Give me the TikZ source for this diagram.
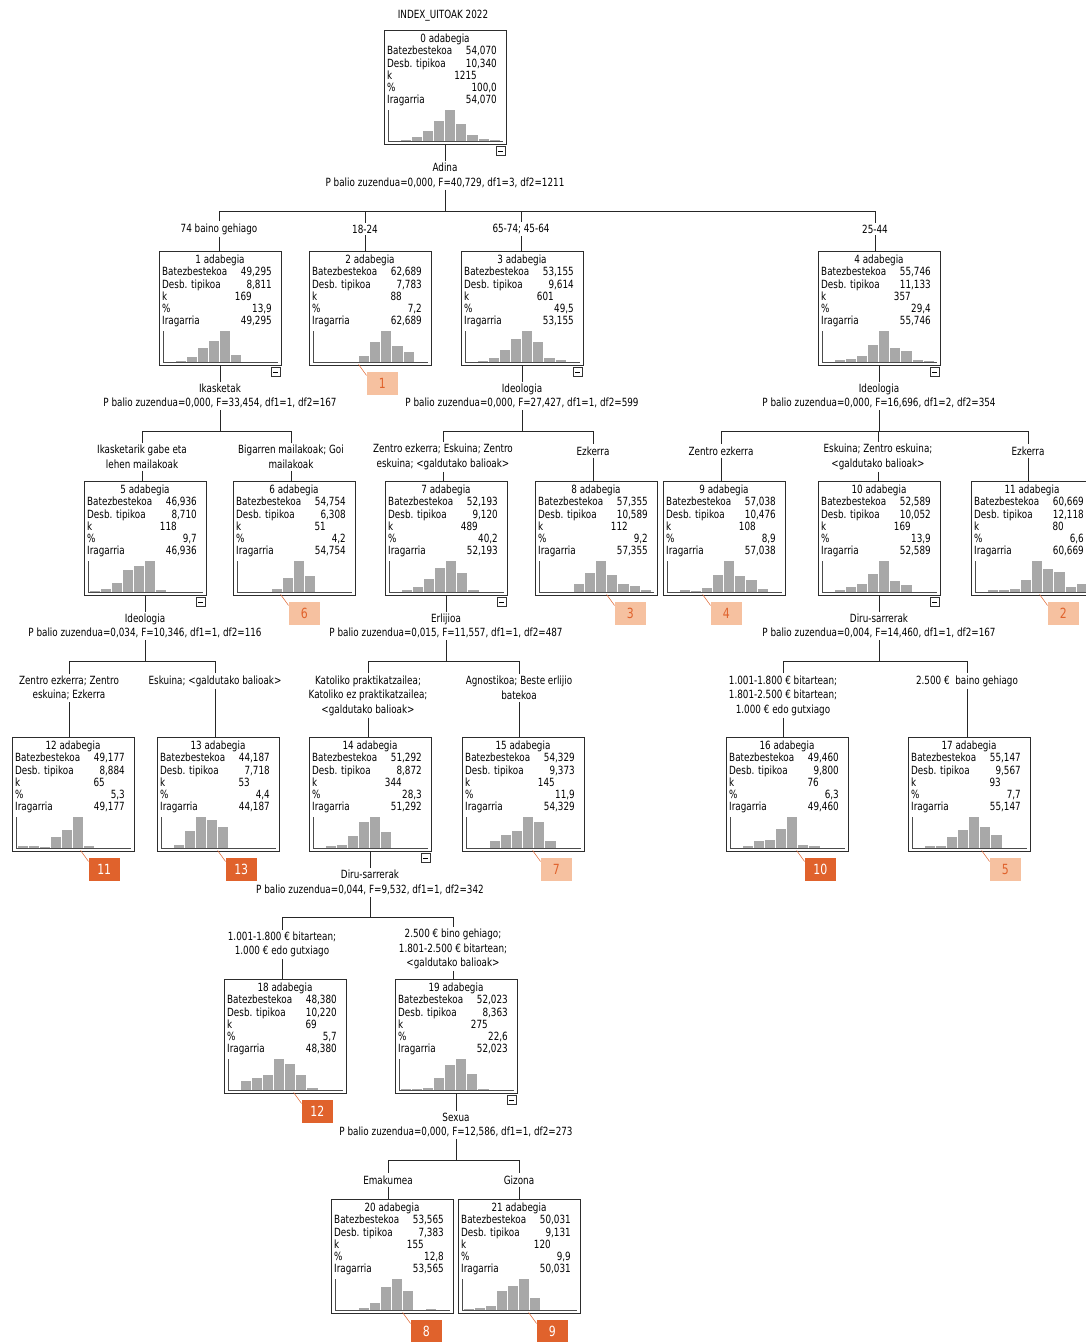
\documentclass[tikz,border=0pt]{standalone}
\usepackage{fontspec}
\setmainfont{DejaVu Sans}[FakeStretch=0.78]
\usepackage{tikz}
\usetikzlibrary{positioning}

\definecolor{orangedark}{RGB}{224,98,44}
\definecolor{orangelight}{RGB}{246,193,160}
\definecolor{bargray}{RGB}{168,168,168}
\definecolor{framegray}{RGB}{45,45,45}

% one tree node: name, left, top, number, mean, sd, k, pct, bars
\newcommand{\adabegia}[9]{%
  \begin{scope}[shift={(#2,#3)}]
    \node[boxframe] (#1) at (61,57) {};
    \node[boxtitle] at (61,12) {#4 adabegia};
    \node[rowtext] at (3,24) {Batezbestekoa};
    \node[rowtext] at (3,37) {Desb. tipikoa};
    \node[rowtext] at (3,49) {k};
    \node[rowtext] at (3,61) {\%};
    \node[rowtext] at (3,73) {Iragarria};
    \node[valtext] at (113,24) {#5};
    \node[valtext] at (113,37) {#6};
    \node[valtext] at (93,49) {#7};
    \node[valtext] at (113,61) {#8};
    \node[valtext] at (113,73) {#5};
    \foreach \h [count=\i from 0] in {#9}
      \filldraw[histbar] (5+11.1*\i,111) rectangle ++(11.1,-\h);
    \draw[histaxis] (4,80) -- (4,111) -- (119,111);
  \end{scope}}

% minus box under a split node
\newcommand{\splitmark}[1]{%
  \node[minusbox, anchor=north east] (#1m) at ([xshift=-1pt,yshift=-2pt]#1.south east) {};
  \draw[line width=0.7pt] ([xshift=2pt]#1m.west) -- ([xshift=-2pt]#1m.east);}

% bar point -> edge label -> child box
\newcommand{\branchto}[3]{%
  \draw[conn] (#1) -| (#2.north);
  \draw[conn] (#2.south) -- (#2.south |- #3.north);}

% terminal label: name, box, offset, style, text
\newcommand{\leafmark}[5]{%
  \node[#4, anchor=north west] (#1) at ([xshift=#3pt+8pt,yshift=-6pt]#2.south west) {#5};
  \draw[leader] ([xshift=#3pt,yshift=1pt]#2.south west) -- ([yshift=-4pt]#1.north west);}

\begin{document}
\begin{tikzpicture}[x=1pt, y=-1pt,
  every node/.style={font=\fontsize{11.3}{12.3}\selectfont, text=black},
  boxframe/.style={draw=framegray, line width=0.9pt, minimum width=122pt, minimum height=114pt, inner sep=0pt},
  boxtitle/.style={anchor=base, inner sep=0pt},
  rowtext/.style={anchor=base west, inner sep=0pt},
  valtext/.style={anchor=base east, inner sep=0pt},
  histbar/.style={fill=bargray, draw=white, line width=0.5pt},
  histaxis/.style={draw=black!70, line width=0.9pt},
  conn/.style={draw=black!85, line width=0.8pt},
  splitlabel/.style={align=center, inner sep=2pt, font=\fontsize{11.3}{14.5}\selectfont},
  edgelabel/.style={align=center, inner sep=2pt, font=\fontsize{11.3}{14.5}\selectfont},
  minusbox/.style={draw=black!80, fill=white, minimum size=9pt, inner sep=0pt, line width=0.7pt},
  leafdark/.style={fill=orangedark, text=white, minimum width=31pt, minimum height=23pt, inner sep=0pt, font=\fontsize{14}{14}\selectfont},
  leaflight/.style={fill=orangelight, text=orangedark, minimum width=31pt, minimum height=23pt, inner sep=0pt, font=\fontsize{14}{14}\selectfont},
  leader/.style={draw=orangedark, line width=0.5pt}
]
\fill[white] (0,0) rectangle (1085,1342);
\useasboundingbox (0,0) rectangle (1085,1342);

\node (title) at (443,16) {INDEX\_UITOAK 2022};

% boxes
\adabegia{n0}{384}{30}{0}{54,070}{10,340}{1215}{100,0}{0.5,1.3,4.7,11,21,32,18,7,3,1.7}
\adabegia{n1}{159}{251}{1}{49,295}{8,811}{169}{13,9}{0.7,1.5,6,15,22,32,8,0,0,0}
\adabegia{n2}{309}{251}{2}{62,689}{7,783}{88}{7,2}{0,0,0,0,7,21,32,17,11,0}
\adabegia{n3}{461}{251}{3}{53,155}{9,614}{601}{49,5}{0,1.7,4.7,13,24,32,21,5,3,1}
\adabegia{n4}{818}{251}{4}{55,746}{11,133}{357}{29,4}{0,2.3,4,7,18,32,15,12,3,2}
\adabegia{n5}{84}{481}{5}{46,936}{8,710}{118}{9,7}{1.7,4,10,23,27,32,3,0,0,0}
\adabegia{n6}{233}{481}{6}{54,754}{6,308}{51}{4,2}{0,0,0,4,15,32,17,0,0,0}
\adabegia{n7}{385}{481}{7}{52,193}{9,120}{489}{40,2}{0,2.7,6,14,25,32,20,2.7,0,0}
\adabegia{n8}{535}{481}{8}{57,355}{10,589}{112}{9,2}{0,1,1,9,20,32,18,9,7,3}
\adabegia{n9}{663}{481}{9}{57,038}{10,476}{108}{8,9}{0,2.7,1.7,5,18,32,17,13,4,1}
\adabegia{n10}{818}{481}{10}{52,589}{10,052}{169}{13,9}{0,2.3,6,9,19,32,12,8,0,0}
\adabegia{n11}{971}{481}{11}{60,669}{12,118}{80}{6,6}{0,2.7,2.7,4,13,32,24,21,6,9}
\adabegia{n12}{12}{737}{12}{49,177}{8,884}{65}{5,3}{2.3,3,1.7,12,19,32,3,0,0,0}
\adabegia{n13}{157}{737}{13}{44,187}{7,718}{53}{4,4}{0,4,18,32,29,22,0,0,0,0}
\adabegia{n14}{309}{737}{14}{51,292}{8,872}{344}{28,3}{0,2.7,4,13,27,32,17,1,0.7,0}
\adabegia{n15}{462}{737}{15}{54,329}{9,373}{145}{11,9}{0,0,8,14,18,32,27,8,1,0}
\adabegia{n16}{726}{737}{16}{49,460}{9,800}{76}{6,3}{1,2.3,8,9,20,32,4,2.3,0,0}
\adabegia{n17}{908}{737}{17}{55,147}{9,567}{93}{7,7}{0,2.7,2.7,12,19,32,22,14,0,0}
\adabegia{n18}{224}{979}{18}{48,380}{10,220}{69}{5,7}{0,10,13,16,32,27,16,3,1,1}
\adabegia{n19}{395}{979}{19}{52,023}{8,363}{275}{22,6}{1.7,1.7,3,13,26,32,17,1.7,1,0}
\adabegia{n20}{331}{1199}{20}{53,565}{7,383}{155}{12,8}{0,0,2.3,8,24,32,20,1,1.7,0}
\adabegia{n21}{458}{1199}{21}{50,031}{9,131}{120}{9,9}{1.7,3,5,20,25,32,13,0,0,0}

\foreach \n in {n0,n1,n3,n4,n5,n7,n10,n14,n19} {\splitmark{\n}}

% Adina
\node[splitlabel] (s0) at (445,175.5) {Adina\\P balio zuzendua=0,000, F=40,729, df1=3, df2=1211};
\coordinate (b0) at (445,211);
\draw[conn] (n0.south) -- (s0.north);
\draw[conn] (s0.south) -- (b0);
\node[edgelabel] (e1) at (219,229) {74 baino gehiago};
\node[edgelabel] (e2) at (365,229) {18-24};
\node[edgelabel] (e3) at (521,229) {65-74; 45-64};
\node[edgelabel] (e4) at (875,229) {25-44};
\branchto{b0}{e1}{n1}
\branchto{b0}{e2}{n2}
\branchto{b0}{e3}{n3}
\branchto{b0}{e4}{n4}

% Ikasketak
\node[splitlabel] (s1) at (220,396) {Ikasketak\\P balio zuzendua=0,000, F=33,454, df1=1, df2=167};
\coordinate (b1) at (220,431);
\draw[conn] (n1.south) -- (s1.north);
\draw[conn] (s1.south) -- (b1);
\node[edgelabel] (e5) at (142,457) {Ikasketarik gabe eta\\lehen mailakoak};
\node[edgelabel] (e6) at (291,457) {Bigarren mailakoak; Goi\\mailakoak};
\branchto{b1}{e5}{n5}
\branchto{b1}{e6}{n6}

% Ideologia (3)
\node[splitlabel] (s3) at (522,396) {Ideologia\\P balio zuzendua=0,000, F=27,427, df1=1, df2=599};
\coordinate (b3) at (522,431);
\draw[conn] (n3.south) -- (s3.north);
\draw[conn] (s3.south) -- (b3);
\node[edgelabel] (e7) at (443,457) {Zentro ezkerra; Eskuina; Zentro\\eskuina; <galdutako balioak>};
\node[edgelabel] (e8) at (593,451) {Ezkerra};
\branchto{b3}{e7}{n7}
\branchto{b3}{e8}{n8}

% Ideologia (4)
\node[splitlabel] (s4) at (879,396) {Ideologia\\P balio zuzendua=0,000, F=16,696, df1=2, df2=354};
\coordinate (b4) at (879,431);
\draw[conn] (n4.south) -- (s4.north);
\draw[conn] (s4.south) -- (b4);
\node[edgelabel] (e9) at (721,451) {Zentro ezkerra};
\node[edgelabel] (e10) at (878,457) {Eskuina; Zentro eskuina;\\<galdutako balioak>};
\node[edgelabel] (e11) at (1028,451) {Ezkerra};
\branchto{b4}{e9}{n9}
\branchto{b4}{e10}{n10}
\branchto{b4}{e11}{n11}

% Ideologia (5)
\node[splitlabel] (s5) at (145,626) {Ideologia\\P balio zuzendua=0,034, F=10,346, df1=1, df2=116};
\coordinate (b5) at (145,661);
\draw[conn] (n5.south) -- (s5.north);
\draw[conn] (s5.south) -- (b5);
\node[edgelabel] (e12) at (69,688) {Zentro ezkerra; Zentro\\eskuina; Ezkerra};
\node[edgelabel] (e13) at (215,681) {Eskuina; <galdutako balioak>};
\branchto{b5}{e12}{n12}
\branchto{b5}{e13}{n13}

% Erlijioa
\node[splitlabel] (s7) at (446,626) {Erlijioa\\P balio zuzendua=0,015, F=11,557, df1=1, df2=487};
\coordinate (b7) at (446,661);
\draw[conn] (n7.south) -- (s7.north);
\draw[conn] (s7.south) -- (b7);
\node[edgelabel] (e14) at (368,695.5) {Katoliko praktikatzailea;\\Katoliko ez praktikatzailea;\\<galdutako balioak>};
\node[edgelabel] (e15) at (519,688) {Agnostikoa; Beste erlijio\\batekoa};
\branchto{b7}{e14}{n14}
\branchto{b7}{e15}{n15}

% Diru-sarrerak (10)
\node[splitlabel] (s10) at (879,626) {Diru-sarrerak\\P balio zuzendua=0,004, F=14,460, df1=1, df2=167};
\coordinate (b10) at (879,661);
\draw[conn] (n10.south) -- (s10.north);
\draw[conn] (s10.south) -- (b10);
\node[edgelabel] (e16) at (783,695.5) {1.001-1.800 € bitartean;\\1.801-2.500 € bitartean;\\1.000 € edo gutxiago};
\node[edgelabel] (e17) at (967,681) {2.500 €\enspace baino gehiago};
\branchto{b10}{e16}{n16}
\branchto{b10}{e17}{n17}

% Diru-sarrerak (14)
\node[splitlabel] (s14) at (370,882.5) {Diru-sarrerak\\P balio zuzendua=0,044, F=9,532, df1=1, df2=342};
\coordinate (b14) at (370,917);
\draw[conn] (n14.south) -- (s14.north);
\draw[conn] (s14.south) -- (b14);
\node[edgelabel] (e18) at (282,944.5) {1.001-1.800 € bitartean;\\1.000 € edo gutxiago};
\node[edgelabel] (e19) at (453,949) {2.500 € bino gehiago;\\1.801-2.500 € bitartean;\\<galdutako balioak>};
\branchto{b14}{e18}{n18}
\branchto{b14}{e19}{n19}

% Sexua
\node[splitlabel] (s19) at (456,1125) {Sexua\\P balio zuzendua=0,000, F=12,586, df1=1, df2=273};
\coordinate (b19) at (456,1160);
\draw[conn] (n19.south) -- (s19.north);
\draw[conn] (s19.south) -- (b19);
\node[edgelabel] (e20) at (388,1180) {Emakumea};
\node[edgelabel] (e21) at (519,1180) {Gizona};
\branchto{b19}{e20}{n20}
\branchto{b19}{e21}{n21}

% terminal numbers
\leafmark{L1}{n2}{50}{leaflight}{1}
\leafmark{L6}{n6}{48}{leaflight}{6}
\leafmark{L3}{n8}{72}{leaflight}{3}
\leafmark{L4}{n9}{40}{leaflight}{4}
\leafmark{L2}{n11}{69}{leaflight}{2}
\leafmark{L11}{n12}{69}{leafdark}{11}
\leafmark{L13}{n13}{61}{leafdark}{13}
\leafmark{L7}{n15}{71}{leaflight}{7}
\leafmark{L10}{n16}{71}{leafdark}{10}
\leafmark{L5}{n17}{74}{leaflight}{5}
\leafmark{L12}{n18}{70}{leafdark}{12}
\leafmark{L8}{n20}{72}{leafdark}{8}
\leafmark{L9}{n21}{71}{leafdark}{9}
\end{tikzpicture}
\end{document}
